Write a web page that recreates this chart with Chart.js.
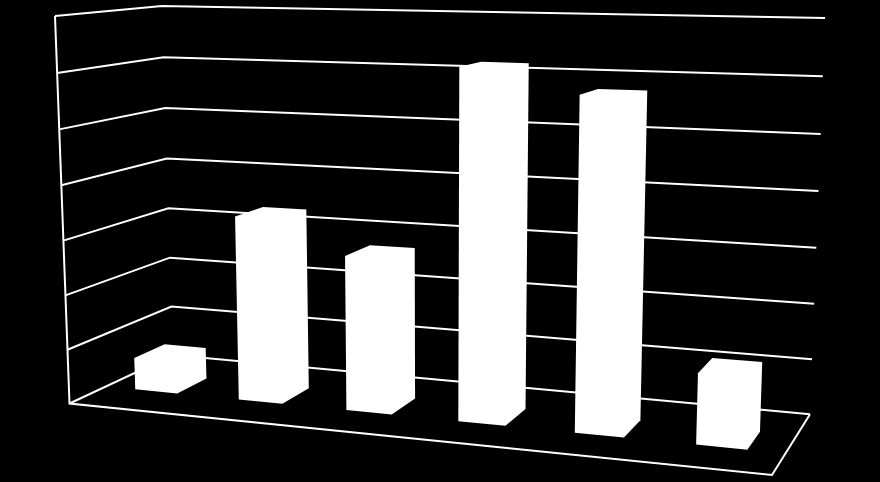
<!DOCTYPE html>
<html>
<head>
<meta charset="utf-8">
<title>3D column chart</title>
<script src="https://cdn.jsdelivr.net/npm/chart.js@4/dist/chart.umd.min.js"></script>
<style>
    html, body { margin: 0; padding: 0; background: #000; }
    canvas { display: block; }
</style>
</head>
<body>
<canvas id="chart" width="880" height="482"></canvas>
<script>
const categories = ['1', '2', '3', '4', '5', '6'];
const values = [0.6, 3.39, 2.8, 6.2, 5.79, 1.22];
const yTicks = [0, 1, 2, 3, 4, 5, 6, 7];

// screen position of the box corners, used to set up the perspective
const floorFrontLeft = [69.5, 403.5];
const floorFrontRight = [772, 475];
const floorBackRight = [810, 414.3];
const floorBackLeft = [173, 355];
const topFrontLeft = [55, 16];
const topBackLeft = [162, 6];
const topBackRight = [825, 18];

// depth of the columns, 0 = front edge of the floor, 1 = back wall
const barFront = 0.33;
const barBack = 0.63;
const barShift = 0.001;
// small corrections so the ticks and the columns spread like the original
const heightBend = 0.033;
const widthBend = 0.023;

// plane through three [x, y, value] points, returns f(x, y)
function fitPlane(p, q, s) {
    const ux = q[0] - p[0], uy = q[1] - p[1], uz = q[2] - p[2];
    const vx = s[0] - p[0], vy = s[1] - p[1], vz = s[2] - p[2];
    const den = ux * vy - vx * uy;
    const ca = (uz * vy - vz * uy) / den;
    const cb = (ux * vz - vx * uz) / den;
    return function(x, y) {
        return p[2] + ca * (x - p[0]) + cb * (y - p[1]);
    };
}

function makeProjection() {
    const [x0, y0] = floorFrontLeft;
    const [x1, y1] = floorFrontRight;
    const [x2, y2] = floorBackRight;
    const [x3, y3] = floorBackLeft;
    const dx1 = x1 - x2, dx2 = x3 - x2, sx = x0 - x1 + x2 - x3;
    const dy1 = y1 - y2, dy2 = y3 - y2, sy = y0 - y1 + y2 - y3;
    const den = dx1 * dy2 - dx2 * dy1;
    const g = (sx * dy2 - dx2 * sy) / den;
    const h = (dx1 * sy - sx * dy1) / den;
    const a = x1 - x0 + g * x1, b = x3 - x0 + h * x3;
    const d = y1 - y0 + g * y1, e = y3 - y0 + h * y3;
    // full height offset of the wall, as a function of the floor point
    const riseX = fitPlane(
        [x0, y0, topFrontLeft[0] - x0],
        [x3, y3, topBackLeft[0] - x3],
        [x2, y2, topBackRight[0] - x2]
    );
    const riseY = fitPlane(
        [x0, y0, topFrontLeft[1] - y0],
        [x3, y3, topBackLeft[1] - y3],
        [x2, y2, topBackRight[1] - y2]
    );
    return function(u, t, v) {
        const bu = u * (1 - widthBend) / (1 - widthBend * u);
        const div = g * bu + h * v + 1;
        const fx = (a * bu + b * v + x0) / div;
        const fy = (d * bu + e * v + y0) / div;
        const bent = t * (1 - heightBend) / (1 - heightBend * t);
        return [fx + bent * riseX(fx, fy), fy + bent * riseY(fx, fy)];
    };
}

const project = makeProjection();

function polyline(ctx, pts, close) {
    ctx.beginPath();
    pts.forEach(function(pt, i) {
        if (i === 0) ctx.moveTo(pt[0], pt[1]);
        else ctx.lineTo(pt[0], pt[1]);
    });
    if (close) ctx.closePath();
}

const box3d = {
    id: 'box3d',
    beforeDatasetsDraw(chart) {
        const ctx = chart.ctx;
        const area = chart.chartArea;
        const yScale = chart.scales.y;
        const level = function(val) {
            return (area.bottom - yScale.getPixelForValue(val)) / (area.bottom - area.top);
        };
        ctx.save();
        ctx.strokeStyle = '#fff';
        ctx.lineWidth = 2;
        yTicks.forEach(function(tick) {
            const t = level(tick);
            polyline(ctx, [project(0, t, 0), project(0, t, 1), project(1, t, 1)]);
            ctx.stroke();
        });
        polyline(ctx, [project(0, level(yTicks[yTicks.length - 1]), 0), project(0, 0, 0), project(1, 0, 0), project(1, 0, 1)]);
        ctx.stroke();
        ctx.restore();
    },
    afterDatasetsDraw(chart) {
        const ctx = chart.ctx;
        const area = chart.chartArea;
        const bars = chart.getDatasetMeta(0).data;
        ctx.save();
        ctx.fillStyle = '#fff';
        bars.forEach(function(bar) {
            const u0 = (bar.x - bar.width / 2 - area.left) / (area.right - area.left) - barShift;
            const u1 = (bar.x + bar.width / 2 - area.left) / (area.right - area.left) - barShift;
            const t = (bar.base - bar.y) / (area.bottom - area.top);
            // every face is plain white, so only the outline of the box is filled
            polyline(ctx, [
                project(u0, 0, barFront),
                project(u1, 0, barFront),
                project(u1, 0, barBack),
                project(u1, t, barBack),
                project(u0, t, barBack),
                project(u0, t, barFront)
            ], true);
            ctx.fill();
        });
        ctx.restore();
    }
};

new Chart(document.getElementById('chart'), {
    type: 'bar',
    data: {
        labels: categories,
        datasets: [{
            data: values,
            backgroundColor: 'rgba(0, 0, 0, 0)',
            borderWidth: 0,
            barPercentage: 0.41,
            categoryPercentage: 1
        }]
    },
    options: {
        responsive: false,
        animation: false,
        layout: { padding: 0 },
        plugins: { legend: { display: false }, tooltip: { enabled: false } },
        scales: {
            x: { display: false },
            y: { display: false, min: 0, max: 7, ticks: { stepSize: 1 } }
        }
    },
    plugins: [box3d]
});
</script>
</body>
</html>
